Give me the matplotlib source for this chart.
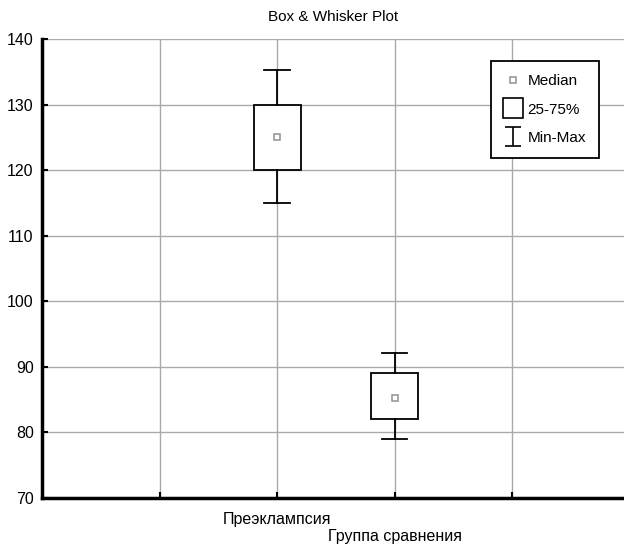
import numpy as np
import matplotlib
matplotlib.use("Agg")
import matplotlib.pyplot as plt
from matplotlib.legend_handler import HandlerErrorbar

plt.rcParams['font.family'] = ['Liberation Sans', 'DejaVu Sans']

# box & whisker values
groups = ["Преэклампсия", "Группа сравнения"]
positions = [2, 3]
medians = [125.0, 85.3]
q1 = [120.0, 82.0]
q3 = [130.0, 89.0]
mins = [115.0, 79.0]
maxs = [135.3, 92.1]

fig = plt.figure(figsize=(6.24, 5.45), dpi=100)
ax = fig.add_axes([42 / 624, 1 - 498 / 545, 1 - 42 / 624, 459 / 545])

stats = []
for i in range(len(groups)):
    stats.append({"med": medians[i], "q1": q1[i], "q3": q3[i],
                  "whislo": mins[i], "whishi": maxs[i], "label": groups[i]})

ax.bxp(stats, positions=positions, widths=0.4, capwidths=0.22,
       showfliers=False, patch_artist=True,
       boxprops=dict(facecolor="white", edgecolor="black", linewidth=1.3),
       whiskerprops=dict(color="black", linewidth=1.3),
       capprops=dict(color="black", linewidth=1.3),
       medianprops=dict(linestyle="none"), zorder=3)
ax.plot(positions, medians, linestyle="none", marker="s", markersize=5,
        markerfacecolor="white", markeredgecolor="#999999",
        markeredgewidth=1.2, zorder=4)

ax.set_xlim(0, (624 - 42) / 117.5)
ax.set_ylim(70, 140)
ax.set_yticks(np.arange(70, 141, 10))
ax.set_xticks([1, 2, 3, 4])
ax.set_xticklabels(["", groups[0], "\n" + groups[1], ""])
ax.tick_params(axis="both", direction="in", length=4, width=1.5,
               labelsize=11.5, colors="black")
ax.tick_params(axis="x", pad=10)
ax.tick_params(axis="y", pad=6)
ax.grid(True, color="#aaaaaa", linewidth=1.0)
ax.set_axisbelow(True)

for s in ["top", "right"]:
    ax.spines[s].set_visible(False)
for s in ["left", "bottom"]:
    ax.spines[s].set_linewidth(2.5)
    ax.spines[s].set_color("black")

# legend handles
h_med, = ax.plot([np.nan], [np.nan], linestyle="none", marker="s",
                 markersize=5, markerfacecolor="white",
                 markeredgecolor="#999999", markeredgewidth=1.2,
                 label="Median")
h_box, = ax.plot([np.nan], [np.nan], linestyle="none", marker="s",
                 markersize=14, markerfacecolor="white",
                 markeredgecolor="black", markeredgewidth=1.2,
                 label="25-75%")
h_mm = ax.errorbar([np.nan], [np.nan], yerr=[1], fmt="none", capsize=5.5,
                   ecolor="black", elinewidth=1.2, capthick=1.2,
                   label="Min-Max")

leg = ax.legend(handles=[h_med, h_box, h_mm], loc="upper left",
                bbox_to_anchor=(491 / 624, 1 - 61 / 545),
                bbox_transform=fig.transFigure, fancybox=False,
                framealpha=1, edgecolor="black", fontsize=11,
                handlelength=1.2, handletextpad=0.35, labelspacing=0.95,
                borderpad=0.85, borderaxespad=0,
                handler_map={type(h_mm): HandlerErrorbar(yerr_size=0.62)})
leg.get_frame().set_linewidth(1.3)

fig.text(333 / 624, 1 - 17 / 545, "Box & Whisker Plot", ha="center",
         va="center", fontsize=11)

fig.savefig("out.png", dpi=100)
